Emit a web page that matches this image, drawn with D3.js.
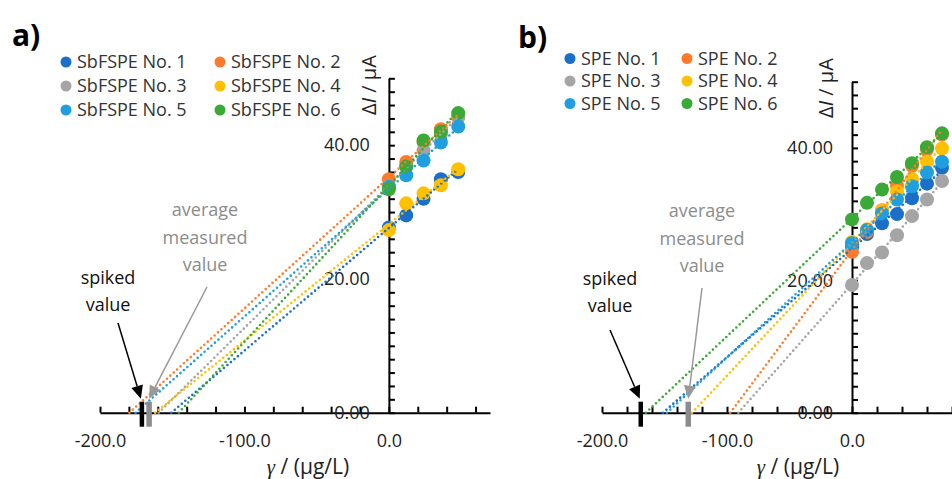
<!DOCTYPE html>
<html>
<head>
<meta charset="utf-8">
<script src="https://cdn.jsdelivr.net/npm/d3@7"></script>
<style>
  body { margin: 0; background: #fff; }
  text { font-family: "Open Sans", sans-serif; }
</style>
</head>
<body>
<div id="chart"></div>
<script>

const width = 952
const height = 479

const colors = ["#1b6fc8", "#ff7b2c", "#a5a5a5", "#ffc000", "#209fe0", "#3ba935"]

// panel a
const concA = [0, 12, 24, 36, 48]
const namesA = ["SbFSPE No. 1", "SbFSPE No. 2", "SbFSPE No. 3", "SbFSPE No. 4", "SbFSPE No. 5", "SbFSPE No. 6"]
const a1 = [27.7, 29.5, 32.0, 34.9, 36.0]
const a2 = [34.9, 37.5, 40.4, 42.4, 44.2]
const a3 = [33.8, 36.8, 39.2, 41.6, 44.2]
const a4 = [27.3, 31.3, 32.8, 34.0, 36.4]
const a5 = [33.8, 35.5, 37.7, 40.4, 42.8]
const a6 = [33.4, 36.8, 40.7, 42.0, 44.8]
const markersA = [-171, -166]   // spiked, average measured

// panel b
const concB = [0, 12, 24, 36, 48, 60, 72]
const namesB = ["SPE No. 1", "SPE No. 2", "SPE No. 3", "SPE No. 4", "SPE No. 5", "SPE No. 6"]
const b1 = [25.0, 27.0, 28.6, 30.0, 32.4, 34.6, 37.0]
const b2 = [24.3, 27.3, 30.6, 34.3, 37.3, 39.8, 42.0]
const b3 = [19.3, 22.6, 24.2, 26.8, 29.7, 32.2, 35.0]
const b4 = [25.8, 27.7, 30.5, 33.4, 35.3, 37.9, 39.9]
const b5 = [25.6, 27.6, 30.1, 32.2, 34.2, 36.3, 37.9]
const b6 = [29.2, 31.7, 33.7, 35.6, 37.7, 40.1, 42.2]
const markersB = [-169, -131]

const xTickLabels = [-200, -100, 0]
const yTickLabels = [0, 20, 40]

const svg = d3.select("#chart").append("svg").attr("width", width).attr("height", height)

// least squares, like the excel trendline
function fit(xs, ys) {
    const mx = d3.mean(xs), my = d3.mean(ys)
    let sxy = 0, sxx = 0
    xs.forEach((x, i) => { sxy += (x - mx) * (ys[i] - my); sxx += (x - mx) * (x - mx) })
    const slope = sxy / sxx
    return { slope: slope, icpt: my - slope * mx }
}

function arrow(g, x1, y1, x2, y2, color) {
    const ang = Math.atan2(y2 - y1, x2 - x1)
    const L = 13, W = 6
    const bx = x2 - L * Math.cos(ang), by = y2 - L * Math.sin(ang)
    g.append("line").attr("x1", x1).attr("y1", y1).attr("x2", bx).attr("y2", by)
        .attr("stroke", color).attr("stroke-width", 1.5)
    const px = -Math.sin(ang) * W, py = Math.cos(ang) * W
    g.append("polygon")
        .attr("points", `${x2},${y2} ${bx + px},${by + py} ${bx - px},${by - py}`)
        .attr("fill", color)
}

function panel(o) {
    const g = svg.append("g")
    const x = d3.scaleLinear().domain(o.xDomain).range(o.xRange)
    const y = d3.scaleLinear().domain([0, 50]).range(o.yRange)
    const y0 = y(0), x0 = x(0)

    // x axis: ticks inside, labels every 100
    const xAxisGroup = g.append("g").attr("transform", `translate(0, ${y0})`)
    xAxisGroup.call(d3.axisTop(x).tickValues(d3.range(-200, o.xDomain[1] + 1, 20)).tickSize(6).tickSizeOuter(0).tickFormat(""))
    const xLab = g.append("g").attr("transform", `translate(0, ${y0})`)
    xLab.call(d3.axisBottom(x).tickValues(xTickLabels).tickSize(0).tickPadding(22).tickFormat(d => d.toFixed(1)))
    xLab.select(".domain").remove()

    // y axis
    const yAxisGroup = g.append("g").attr("transform", `translate(${x0}, 0)`)
    yAxisGroup.call(d3.axisRight(y).tickValues(d3.range(0, 51, 2)).tickSize(6).tickSizeOuter(0).tickFormat(""))
    const yLab = g.append("g").attr("transform", `translate(${x0}, 0)`)
    yLab.call(d3.axisLeft(y).tickValues(yTickLabels).tickSize(0).tickPadding(19).tickFormat(d => d.toFixed(2)))
    yLab.select(".domain").remove()

    g.selectAll(".domain, .tick line").attr("stroke", "#000").attr("stroke-width", 2)
    g.selectAll(".tick text").attr("font-size", 18).attr("fill", "#222").attr("font-family", "Open Sans")

    // points, series 1 first so 6 ends on top
    o.series.forEach((vals, i) => {
        g.append("g").selectAll("circle").data(vals).enter()
            .append("circle")
            .attr("cx", (d, j) => x(o.conc[j]))
            .attr("cy", d => y(d))
            .attr("r", 7)
            .attr("fill", colors[i])
    })

    // dotted trendlines back to the x axis
    o.series.forEach((vals, i) => {
        const f = fit(o.conc, vals)
        const xEnd = d3.max(o.conc)
        g.append("line")
            .attr("x1", x(-f.icpt / f.slope)).attr("y1", y(0))
            .attr("x2", x(xEnd)).attr("y2", y(f.slope * xEnd + f.icpt))
            .attr("stroke", colors[i]).attr("stroke-width", 2.6)
            .attr("stroke-linecap", "round").attr("stroke-dasharray", "0 4.6")
    })

    // spiked and average measured bars
    g.append("line").attr("x1", x(o.markers[0])).attr("x2", x(o.markers[0]))
        .attr("y1", y0 - 11).attr("y2", y0 + 14).attr("stroke", "#000").attr("stroke-width", 4.5)
    g.append("line").attr("x1", x(o.markers[1])).attr("x2", x(o.markers[1]))
        .attr("y1", y0 - 11).attr("y2", y0 + 14).attr("stroke", "#8c8c8c").attr("stroke-width", 5.5)

    arrow(g, o.blackFrom[0], o.blackFrom[1], x(o.markers[0]) - 1, y0 - 14, "#000")
    arrow(g, o.grayFrom[0], o.grayFrom[1], x(o.markers[1]), y0 - 14, "#999")

    const sp = g.append("text").attr("text-anchor", "middle").attr("font-size", 18).attr("fill", "#111")
    sp.append("tspan").attr("x", o.spiked[0]).attr("y", o.spiked[1]).attr("dy", "0.35em").text("spiked")
    sp.append("tspan").attr("x", o.spiked[0]).attr("y", o.spiked[1] + 27).attr("dy", "0.35em").text("value")

    const av = g.append("text").attr("text-anchor", "middle").attr("font-size", 18).attr("fill", "#8c8c8c")
    ;["average", "measured", "value"].forEach((t, k) => {
        av.append("tspan").attr("x", o.average[0]).attr("y", o.average[1] + k * 27.5).attr("dy", "0.35em").text(t)
    })

    // axis titles
    const yt = g.append("text").attr("transform", `translate(${o.yTitle[0]}, ${o.yTitle[1]}) rotate(-90)`)
        .attr("text-anchor", "middle").attr("dy", "0.35em").attr("font-size", 20).attr("fill", "#222")
    yt.append("tspan").text("Δ")
    yt.append("tspan").attr("font-style", "italic").text("I")
    yt.append("tspan").text(" / µA")

    const xt = g.append("text").attr("x", o.xTitle[0]).attr("y", o.xTitle[1])
        .attr("text-anchor", "middle").attr("dy", "0.35em").attr("font-size", 21).attr("fill", "#222")
    xt.append("tspan").attr("font-style", "italic").attr("font-family", "Liberation Serif").text("γ")
    xt.append("tspan").text(" / (µg/L)")

    // legend
    o.names.forEach((n, i) => {
        const lx = o.legend.x[i % 2], ly = o.legend.y + Math.floor(i / 2) * o.legend.dy
        g.append("circle").attr("cx", lx).attr("cy", ly).attr("r", 5.5).attr("fill", colors[i])
        g.append("text").attr("x", lx + 11).attr("y", ly).attr("dy", "0.35em")
            .attr("font-size", 18).attr("fill", "#333").text(n)
    })

    g.append("text").attr("x", o.tag[0]).attr("y", o.tag[1]).attr("font-size", 30)
        .attr("font-weight", "bold").attr("fill", "#000").text(o.tagText)
}

panel({
    xDomain: [-200, 70], xRange: [100, 490], yRange: [412.7, 78.3],
    conc: concA, series: [a1, a2, a3, a4, a5, a6], names: namesA, markers: markersA,
    blackFrom: [118, 323], grayFrom: [207, 287],
    spiked: [108, 278], average: [205, 210],
    yTitle: [369, 85], xTitle: [308, 467],
    legend: { x: [66, 220], y: 62, dy: 24 },
    tag: [12, 46], tagText: "a)"
})

panel({
    xDomain: [-200, 80], xRange: [602, 952], yRange: [412.7, 81.7],
    conc: concB, series: [b1, b2, b3, b4, b5, b6], names: namesB, markers: markersB,
    blackFrom: [610, 330], grayFrom: [702, 288],
    spiked: [610, 279], average: [702, 211],
    yTitle: [826, 88], xTitle: [798, 467],
    legend: { x: [570, 687], y: 58.5, dy: 22.5 },
    tag: [518, 48], tagText: "b)"
})

</script>
</body>
</html>
